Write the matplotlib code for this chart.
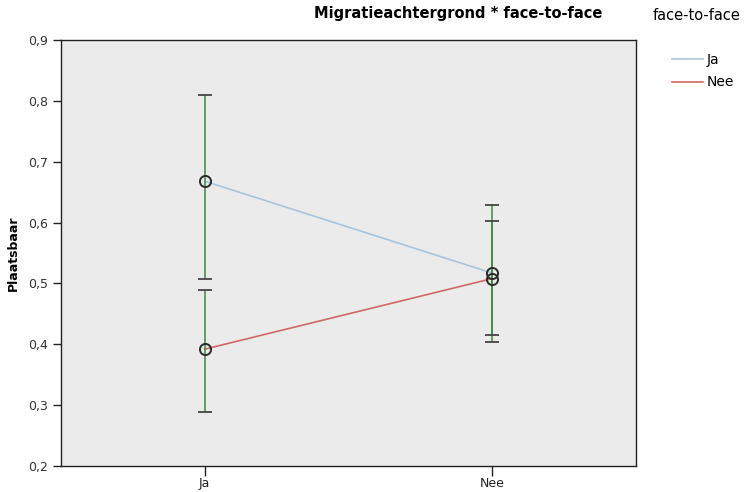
import matplotlib.pyplot as plt
import matplotlib.ticker as mticker

groepen = ["Ja", "Nee"]
series = ["Ja", "Nee"]
gemiddelde = {"Ja": [0.668, 0.517], "Nee": [0.392, 0.508]}
ci_laag = {"Ja": [0.507, 0.403], "Nee": [0.288, 0.416]}
ci_hoog = {"Ja": [0.809, 0.629], "Nee": [0.490, 0.602]}
kleuren = {"Ja": "#a9c5de", "Nee": "#d06868"}

fig = plt.figure(figsize=(7.52, 4.92), dpi=100)
ax = fig.add_axes([0.0811, 0.0528, 0.7646, 0.8659])
ax.set_facecolor("#ebebeb")

x = list(range(len(groepen)))
lijnen = []
for s in series:
    l, = ax.plot(x, gemiddelde[s], color=kleuren[s], lw=1.2, label=s, zorder=2)
    lijnen.append(l)

for s in series:
    onder = [m - l for m, l in zip(gemiddelde[s], ci_laag[s])]
    boven = [h - m for m, h in zip(gemiddelde[s], ci_hoog[s])]
    ax.errorbar(x, gemiddelde[s], yerr=[onder, boven], fmt="none",
                ecolor="#3d8a3d", elinewidth=1.1, capsize=0, zorder=3)
    # dark caps
    ax.plot(x, ci_laag[s], ls="none", marker="_", ms=10, mew=1.3, color="#444444", zorder=4)
    ax.plot(x, ci_hoog[s], ls="none", marker="_", ms=10, mew=1.3, color="#444444", zorder=4)
    ax.plot(x, gemiddelde[s], ls="none", marker="o", ms=8, mfc="none",
            mec="#2a2a2a", mew=1.4, zorder=5)

ax.set_xlim(-0.5, 1.5)
ax.set_ylim(0.2, 0.9)
ax.set_xticks(x)
ax.set_xticklabels(groepen, fontsize=9)
ax.set_yticks([0.2, 0.3, 0.4, 0.5, 0.6, 0.7, 0.8, 0.9])
ax.yaxis.set_major_formatter(mticker.FuncFormatter(lambda v, p: f"{v:.1f}".replace(".", ",")))
ax.tick_params(axis="y", labelsize=9, length=6, width=1, color="#222222", labelcolor="#333333")
ax.tick_params(axis="x", length=7, width=1, color="#222222", labelcolor="#222222", pad=1)
for sp in ax.spines.values():
    sp.set_color("#222222")
    sp.set_linewidth(1)

ax.set_ylabel("Plaatsbaar", fontsize=9, fontweight="bold", labelpad=6)

fig.text(0.609, 0.972, "Migratieachtergrond * face-to-face", ha="center", va="center",
         fontsize=10.5, fontweight="bold")

fig.text(0.868, 0.968, "face-to-face", ha="left", va="center", fontsize=10.5)
fig.legend(handles=lijnen, loc="upper left", bbox_to_anchor=(0.893, 0.892),
           frameon=False, fontsize=10, handlelength=2.3, handletextpad=0.25,
           labelspacing=0.6, borderpad=0, borderaxespad=0)

fig.savefig("out.png", dpi=100)
